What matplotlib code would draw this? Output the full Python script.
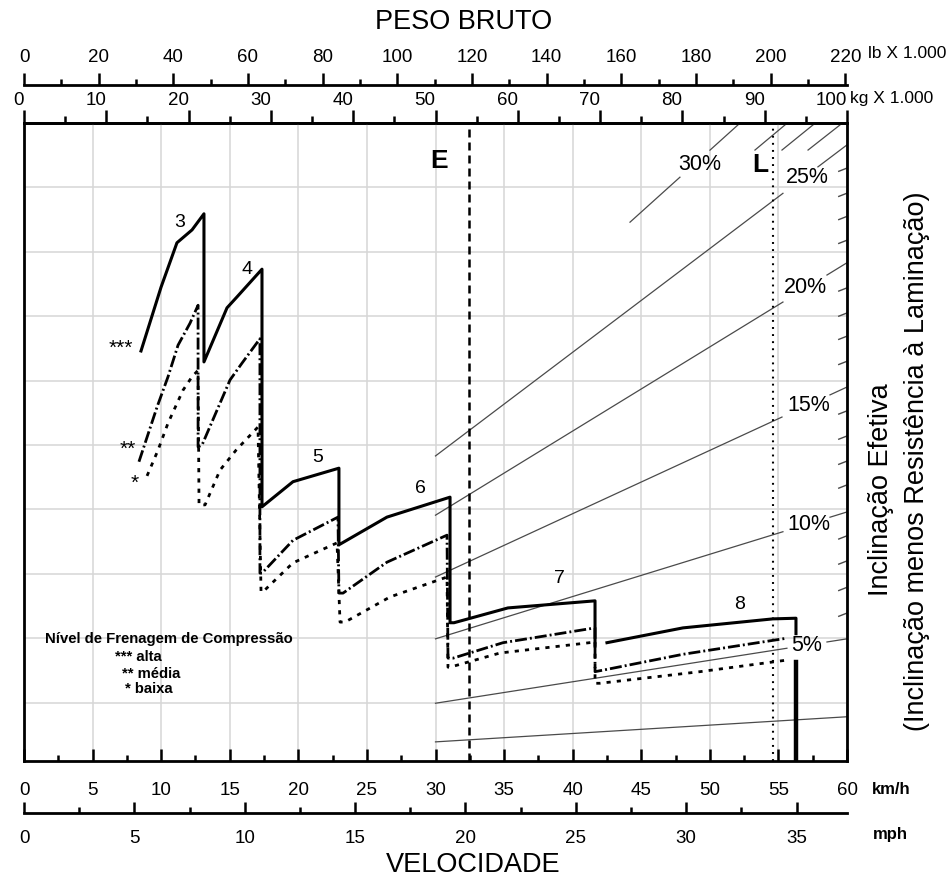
import numpy as np
import matplotlib.pyplot as plt

plt.rcParams['font.family'] = ['Liberation Sans', 'DejaVu Sans']

W, H = 952, 877

# speed in km/h, vertical value in chart grid units (one unit per grid line)
alta_kmh = [8.53, 9.99, 11.15, 12.25, 13.12, 13.12, 14.80, 15.53, 17.35, 17.35,
            19.61, 22.96, 22.96, 26.46, 31.06, 31.06, 31.35, 35.28, 41.63, 41.63]
alta_y = [6.46, 7.45, 8.14, 8.34, 8.59, 6.29, 7.13, 7.30, 7.73, 4.04,
          4.43, 4.64, 3.45, 3.88, 4.19, 2.24, 2.24, 2.47, 2.58, 1.89]
alta8_kmh = [42.50, 48.04, 54.60, 56.28, 56.28]
alta8_y = [1.93, 2.16, 2.30, 2.31, 2.07]
end_kmh = [56.28, 56.28]
end_y = [1.63, 0.093]

media_kmh = [8.38, 9.70, 10.50, 11.23, 12.10, 12.69, 12.69, 12.98, 15.02, 15.89,
             17.20, 17.20, 17.35, 19.61, 22.89, 22.96, 23.26, 26.46, 30.84, 30.91,
             31.28, 34.92, 41.63, 41.63, 42.36, 48.04, 55.62]
media_y = [4.74, 5.59, 6.06, 6.55, 6.89, 7.17, 4.97, 5.00, 6.01, 6.27,
           6.65, 3.01, 3.01, 3.52, 3.88, 2.70, 2.70, 3.18, 3.60, 1.69,
           1.69, 1.93, 2.16, 1.48, 1.51, 1.75, 2.00]

baixa_kmh = [8.97, 9.77, 10.50, 11.59, 12.25, 12.69, 12.76, 13.20, 14.29, 15.46,
             17.06, 17.28, 17.42, 19.61, 22.82, 23.04, 23.40, 26.68, 30.84, 30.91,
             31.06, 34.70, 41.63, 41.63, 41.99, 49.28, 55.62]
baixa_y = [4.52, 4.92, 5.34, 5.85, 6.06, 6.16, 4.07, 4.07, 4.61, 4.92,
           5.28, 2.72, 2.72, 3.17, 3.48, 2.25, 2.25, 2.64, 2.95, 1.55,
           1.55, 1.77, 1.94, 1.30, 1.30, 1.48, 1.66]

gears = ['3', '4', '5', '6', '7', '8']
gear_kmh = [11.37, 16.26, 21.43, 28.87, 39.00, 52.20]
gear_y = [8.45, 7.72, 4.80, 4.33, 2.92, 2.52]

# grade lines (start at 30 km/h, end at right border)
grade_names = ['', '5%', '10%', '15%', '20%', '25%']
grade_start = [0.39, 0.99, 1.99, 2.95, 3.91, 4.83]
grade_end = [0.78, 1.99, 3.96, 5.90, 7.83, 9.66]
grade_gap = [None, (55.62, 58.54), (55.33, 58.76), (55.26, 58.76),
             (55.33, 58.54), (55.33, 57.88)]
grade_lbl_kmh = [None, 57.08, 57.23, 57.23, 56.94, 57.08]
grade_lbl_y = [None, 1.88, 3.77, 5.61, 7.45, 9.16]

g30_kmh = [44.18, 52.05]
g30_y = [8.46, 9.97]
steep_kmh = [(53.29, 55.48), (55.26, 57.52), (57.16, 59.49)]
steep_y = (9.58, 9.97)
edge_ticks = [2.36, 2.76, 3.17, 3.56, 4.35, 4.72, 5.11, 5.50, 6.27, 6.66,
              7.02, 7.41, 8.15, 8.52, 8.88, 9.27]

E_kmh = 32.44
L_kmh = 54.60

fig = plt.figure(figsize=(W / 100, H / 100), dpi=100)
ax = fig.add_axes([24 / W, 1 - 761 / H, 823 / W, 638 / H])
ax.set_xlim(0, 60)
ax.set_ylim(0.093, 10)
for s in ax.spines.values():
    s.set_linewidth(2)

ax.set_xticks(np.arange(0, 61, 5))
ax.set_xticks(np.arange(0, 61, 2.5), minor=True)
ax.set_yticks(np.arange(1, 10))
ax.tick_params(axis='y', length=0, labelleft=False)
ax.tick_params(axis='x', which='major', direction='in', length=8.6, width=1.8,
               pad=15, labelsize=13.5)
ax.tick_params(axis='x', which='minor', direction='in', length=4.5, width=1.8)
ax.grid(True, color='#d6d6d6', lw=1.1)
ax.set_axisbelow(True)

# upper scales
kg = ax.secondary_xaxis('top', functions=(lambda v: v * 100 / 60, lambda v: v * 60 / 100))
kg.set_xticks(np.arange(0, 101, 10))
kg.set_xticks(np.arange(0, 101, 5), minor=True)
kg.tick_params(which='major', length=9.3, width=1.8, pad=1, labelsize=13.5)
kg.tick_params(which='minor', length=5, width=1.8)
kg.spines['top'].set_linewidth(2)
plt.setp(kg.get_xticklabels(), ha='right')

lb = ax.secondary_xaxis(1 + 38 / 638, functions=(lambda v: v * 100 / 60 * 2.20462,
                                                 lambda v: v / 2.20462 * 60 / 100))
lb.set_xticks(np.arange(0, 221, 20))
lb.set_xticks(np.arange(0, 221, 10), minor=True)
lb.tick_params(which='major', length=8.6, width=1.8, pad=5, labelsize=13.5)
lb.tick_params(which='minor', length=4.5, width=1.8)
lb.spines['top'].set_linewidth(2)

mph = ax.secondary_xaxis(-52 / 638, functions=(lambda v: v / 1.609344, lambda v: v * 1.609344))
mph.set_xticks(np.arange(0, 36, 5))
mph.set_xticks(np.arange(0, 36, 2.5), minor=True)
mph.tick_params(which='major', direction='in', length=8, width=1.8, pad=12, labelsize=13.5)
mph.tick_params(which='minor', direction='in', length=4.5, width=1.8)
mph.spines['bottom'].set_linewidth(2)

# grade lines
gc = '#4a4a4a'
for i in range(len(grade_names)):
    xs = np.array([30.0, 60.0])
    ys = np.array([grade_start[i], grade_end[i]])
    gap = grade_gap[i]
    if gap is None:
        ax.plot(xs, ys, color=gc, lw=0.9)
    else:
        y0 = np.interp(gap[0], xs, ys)
        y1 = np.interp(gap[1], xs, ys)
        ax.plot([30.0, gap[0]], [grade_start[i], y0], color=gc, lw=0.9)
        ax.plot([gap[1], 60.0], [y1, grade_end[i]], color=gc, lw=0.9)
        ax.text(grade_lbl_kmh[i], grade_lbl_y[i], grade_names[i], fontsize=15.5,
                ha='center', va='center')

ya = np.interp(47.82, g30_kmh, g30_y)
yb = np.interp(50.01, g30_kmh, g30_y)
ax.plot([g30_kmh[0], 47.82], [g30_y[0], ya], color=gc, lw=0.9)
ax.plot([50.01, g30_kmh[1]], [yb, g30_y[1]], color=gc, lw=0.9)
ax.text(49.28, 9.36, '30%', fontsize=15.5, ha='center', va='center')
for xa, xb in steep_kmh:
    ax.plot([xa, xb], steep_y, color=gc, lw=0.9)
for yt in edge_ticks:
    ax.plot([59.4, 60], [yt - 0.02, yt + 0.03], color=gc, lw=1.0)

# E and L limits
ax.axvline(E_kmh, color='black', lw=1.8, ls=(0, (3.2, 2)))
ax.axvline(L_kmh, color='black', lw=1.5, ls=(0, (0.9, 2.5)))
ax.text(30.25, 9.41, 'E', fontsize=19, fontweight='bold', ha='center', va='center')
ax.text(53.66, 9.35, 'L', fontsize=19, fontweight='bold', ha='center', va='center')

# braking curves
ax.plot(alta_kmh, alta_y, color='black', lw=2.2)
ax.plot(alta8_kmh, alta8_y, color='black', lw=2.2)
ax.plot(end_kmh, end_y, color='black', lw=3.2)
ax.plot(media_kmh, media_y, color='black', lw=2.0, ls=(0, (4.3, 1.1, 0.7, 1.1)))
ax.plot(baixa_kmh, baixa_y, color='black', lw=2.0, ls=(0, (1.5, 2.2)))

for g, gx, gy in zip(gears, gear_kmh, gear_y):
    ax.text(gx, gy, g, fontsize=14, ha='center', va='center')

ax.text(7.07, 6.50, '***', fontsize=15, ha='center', va='center')
ax.text(7.58, 4.93, '**', fontsize=15, ha='center', va='center')
ax.text(8.09, 4.40, '*', fontsize=15, ha='center', va='center')

# legend text
fig.text(45 / W, 1 - 639 / H, 'Nível de Frenagem de Compressão', fontsize=10.7,
         fontweight='bold', va='center')
fig.text(115 / W, 1 - 657 / H, '*** alta', fontsize=10.7, fontweight='bold', va='center')
fig.text(122 / W, 1 - 674 / H, '** média', fontsize=10.7, fontweight='bold', va='center')
fig.text(125 / W, 1 - 689 / H, '* baixa', fontsize=10.7, fontweight='bold', va='center')

# axis titles and units
fig.text(464 / W, 1 - 22 / H, 'PESO BRUTO', fontsize=19.5, ha='center', va='center')
fig.text(473 / W, 1 - 865 / H, 'VELOCIDADE', fontsize=19.5, ha='center', va='center')
fig.text(868 / W, 1 - 54 / H, 'lb X 1.000', fontsize=12.5, va='center')
fig.text(850 / W, 1 - 98 / H, 'kg X 1.000', fontsize=12.5, va='center')
fig.text(872 / W, 1 - 789 / H, 'km/h', fontsize=12, fontweight='bold', va='center')
fig.text(873 / W, 1 - 835 / H, 'mph', fontsize=12, fontweight='bold', va='center')
fig.text(881 / W, 1 - 490 / H, 'Inclinação Efetiva', fontsize=19.5, rotation=90,
         ha='center', va='center')
fig.text(917 / W, 1 - 461 / H, '(Inclinação menos Resistência à Laminação)',
         fontsize=19.5, rotation=90, ha='center', va='center')

fig.savefig('out.png', dpi=100)
